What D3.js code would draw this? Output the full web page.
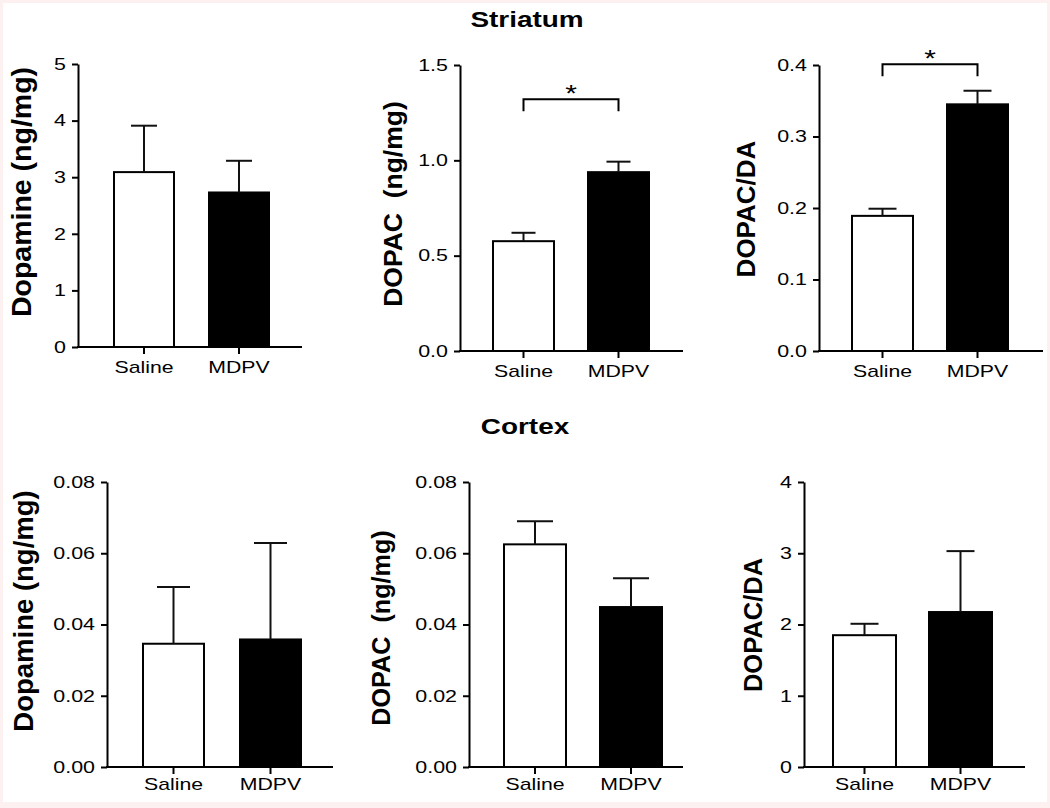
<!DOCTYPE html>
<html>
<head>
<meta charset="utf-8">
<script src="https://cdn.jsdelivr.net/npm/d3@7"></script>
<style>
  html, body { margin: 0; padding: 0; background: #fdf0f0; }
  svg { display: block; }
  text { font-family: "Liberation Sans", Arial, sans-serif; fill: #000; }
</style>
</head>
<body>
<svg id="chart" width="1050" height="808"></svg>
<script>
// ---------------- DATA ----------------
const groups = ["Saline", "MDPV"];
const sectionTitles = ["Striatum", "Cortex"];

const yLabels = ["Dopamine (ng/mg)", "DOPAC  (ng/mg)", "DOPAC/DA",
                 "Dopamine (ng/mg)", "DOPAC  (ng/mg)", "DOPAC/DA"];

const striatumDopamine    = [3.09, 2.73];
const striatumDopamineSEM = [0.82, 0.56];
const striatumDOPAC       = [0.576, 0.938];
const striatumDOPACSEM    = [0.044, 0.055];
const striatumRatio       = [0.189, 0.345];
const striatumRatioSEM    = [0.010, 0.019];

const cortexDopamine      = [0.0346, 0.0358];
const cortexDopamineSEM   = [0.0159, 0.0271];
const cortexDOPAC         = [0.0625, 0.0449];
const cortexDOPACSEM      = [0.0065, 0.0081];
const cortexRatio         = [1.85, 2.175];
const cortexRatioSEM      = [0.16, 0.855];

const yMax = [5, 1.5, 0.4, 0.08, 0.08, 4];
const yTicks1 = [0, 1, 2, 3, 4, 5];
const yTicks2 = [0, 0.5, 1.0, 1.5];
const yTicks3 = [0, 0.1, 0.2, 0.3, 0.4];
const yTicks4 = [0, 0.02, 0.04, 0.06, 0.08];
const yTicks5 = [0, 0.02, 0.04, 0.06, 0.08];
const yTicks6 = [0, 1, 2, 3, 4];
const tickFormats = ["d", ".1f", ".1f", ".2f", ".2f", "d"];

// significance brackets: panel index, bracket level (data units), label
const sigPanels = [1, 2];
const sigLevels = [1.32, 0.401];
const sigLabels = ["*", "*"];

const means = [striatumDopamine, striatumDOPAC, striatumRatio, cortexDopamine, cortexDOPAC, cortexRatio];
const sems  = [striatumDopamineSEM, striatumDOPACSEM, striatumRatioSEM, cortexDopamineSEM, cortexDOPACSEM, cortexRatioSEM];
const ticksAll = [yTicks1, yTicks2, yTicks3, yTicks4, yTicks5, yTicks6];

// ---------------- LAYOUT (positions / styles) ----------------
const layout = [
  {axisX: 78,  xEnd: 302,  yTop: 64,  yBot: 347, bars: [114, 269], bw: 60, cap: 26, lblX: 31,  lblY: 192, lblSize: 28.5},
  {axisX: 460, xEnd: 683,  yTop: 65,  yBot: 351, bars: [493, 649], bw: 61, cap: 24, lblX: 402, lblY: 204, lblSize: 26.5},
  {axisX: 819, xEnd: 1043, yTop: 65,  yBot: 351, bars: [852, 1008], bw: 61, cap: 28, lblX: 755, lblY: 209, lblSize: 26},
  {axisX: 107, xEnd: 333,  yTop: 482, yBot: 767, bars: [143, 301], bw: 61, cap: 33, lblX: 33,  lblY: 611, lblSize: 27.5},
  {axisX: 469, xEnd: 683,  yTop: 482, yBot: 767, bars: [504, 662], bw: 62, cap: 36, lblX: 390, lblY: 628, lblSize: 25.2},
  {axisX: 804, xEnd: 1025, yTop: 482, yBot: 767, bars: [833, 992], bw: 63, cap: 28, lblX: 762, lblY: 625, lblSize: 25.5}
];
const titlePos = [{x: 527, y: 27}, {x: 525, y: 434}];
const barFill = ["#ffffff", "#000000"];
const SX = 1.27;       // horizontal stretch of the source figure's lettering
const LW = 2;

// ---------------- DRAW ----------------
const svg = d3.select("#chart");
svg.append("rect").attr("x", 3).attr("y", 3).attr("width", 1044).attr("height", 799).attr("fill", "#fff");

// section titles
sectionTitles.forEach((t, i) => {
  svg.append("text")
    .attr("transform", `translate(${titlePos[i].x},${titlePos[i].y}) scale(${SX},1)`)
    .attr("text-anchor", "middle")
    .attr("font-size", 22).attr("font-weight", "bold")
    .text(t);
});

layout.forEach((L, p) => {
  const g = svg.append("g");
  const y = d3.scaleLinear().domain([0, yMax[p]]).range([L.yBot, L.yTop]);
  const W = L.bars[1] - L.bars[0];
  const pi = (W - 2 * L.bw) / (W - L.bw);
  const x = d3.scaleBand().domain(groups).range(L.bars).paddingInner(pi).paddingOuter(0);

  // bars
  g.selectAll("rect.bar").data(groups).join("rect")
    .attr("class", "bar")
    .attr("x", d => x(d))
    .attr("width", x.bandwidth())
    .attr("y", (d, i) => y(means[p][i]))
    .attr("height", (d, i) => y(0) - y(means[p][i]))
    .attr("fill", (d, i) => barFill[i])
    .attr("stroke", "#000").attr("stroke-width", LW);

  // error bars (upper only)
  groups.forEach((gName, i) => {
    const cx = x(gName) + x.bandwidth() / 2;
    const top = y(means[p][i] + sems[p][i]);
    g.append("line").attr("x1", cx).attr("x2", cx)
      .attr("y1", y(means[p][i])).attr("y2", top)
      .attr("stroke", "#111").attr("stroke-width", LW);
    g.append("line").attr("x1", cx - L.cap / 2).attr("x2", cx + L.cap / 2)
      .attr("y1", top).attr("y2", top)
      .attr("stroke", "#111").attr("stroke-width", LW);
  });

  // y axis
  const yAxis = d3.axisLeft(y).tickValues(ticksAll[p]).tickFormat(d3.format(tickFormats[p]))
    .tickSize(6).tickSizeOuter(0).tickPadding(6);
  const ya = g.append("g").attr("transform", `translate(${L.axisX},0)`).call(yAxis);
  ya.select(".domain").attr("stroke-width", LW).attr("stroke", "#000");
  ya.selectAll(".tick line").attr("stroke-width", LW).attr("stroke", "#000");
  ya.selectAll(".tick text")
    .attr("font-size", 16.5)
    .attr("font-family", '"Liberation Sans", Arial, sans-serif')
    .attr("fill", "#111")
    .attr("x", -12 / 1.3)
    .attr("transform", "scale(1.3,1)");

  // x axis line
  g.append("line").attr("x1", L.axisX - 1).attr("x2", L.xEnd)
    .attr("y1", y(0)).attr("y2", y(0))
    .attr("stroke", "#000").attr("stroke-width", LW);
  const xAxis = d3.axisBottom(x).tickSize(7).tickSizeOuter(0).tickPadding(0);
  const xa = g.append("g").attr("transform", `translate(0,${y(0)})`).call(xAxis);
  xa.select(".domain").remove();
  xa.selectAll(".tick line").attr("stroke-width", LW).attr("stroke", "#000");
  xa.selectAll(".tick text")
    .attr("font-size", 17)
    .attr("font-family", '"Liberation Sans", Arial, sans-serif')
    .attr("fill", "#111")
    .attr("y", 0).attr("dy", 0)
    .attr("transform", `translate(0,${p < 3 ? 26 : 23}) scale(1.25,1)`);

  // y label
  g.append("text")
    .attr("transform", `translate(${L.lblX},${L.lblY}) rotate(-90)`)
    .attr("text-anchor", "middle")
    .attr("font-size", L.lblSize).attr("font-weight", "bold")
    .style("white-space", "pre")
    .text(yLabels[p]);

  // significance bracket
  const si = sigPanels.indexOf(p);
  if (si >= 0) {
    const by = y(sigLevels[si]);
    const x1 = x(groups[0]) + x.bandwidth() / 2;
    const x2 = x(groups[1]) + x.bandwidth() / 2;
    g.append("path")
      .attr("d", d3.line()([[x1, by + 12], [x1, by], [x2, by], [x2, by + 12]]))
      .attr("fill", "none").attr("stroke", "#000").attr("stroke-width", LW);
    g.append("text")
      .attr("transform", `translate(${(x1 + x2) / 2},${by + 3}) scale(1.25,1)`)
      .attr("text-anchor", "middle")
      .attr("font-size", 24)
      .text(sigLabels[si]);
  }
});
</script>
</body>
</html>
